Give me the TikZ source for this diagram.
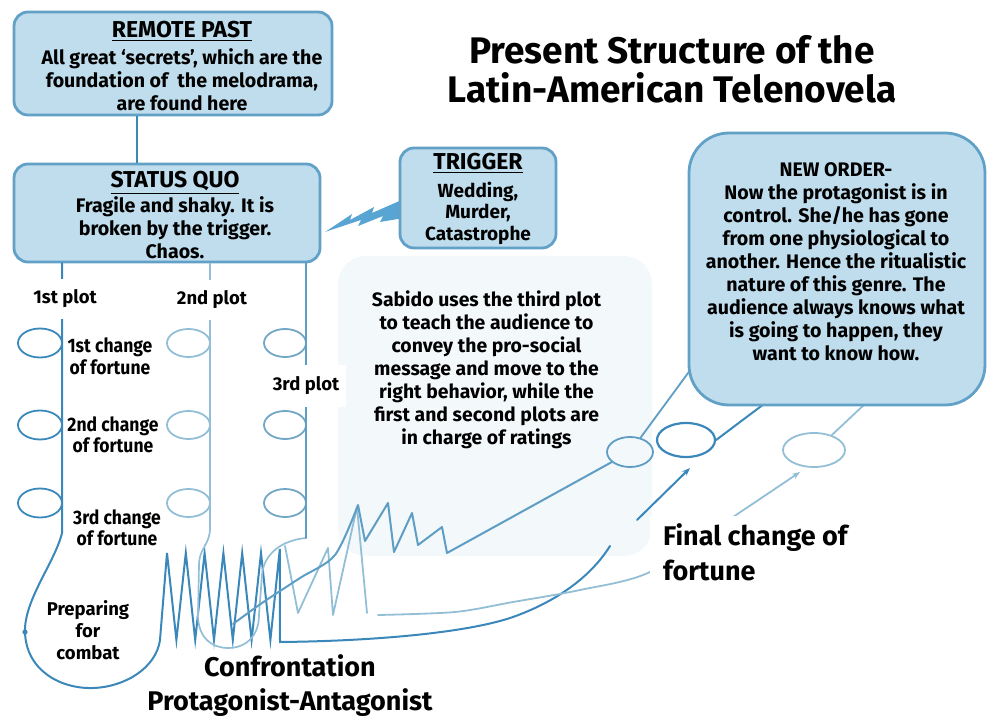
\documentclass[tikz,border=0pt]{standalone}
\usepackage{fontspec}
\setmainfont{Fira Sans}
\usetikzlibrary{arrows.meta,shapes.geometric}

\definecolor{boxfill}{HTML}{BFDDEC}
\definecolor{boxline}{HTML}{62A1C7}
\definecolor{plotA}{HTML}{3A87BA}
\definecolor{plotB}{HTML}{93BFD6}
\definecolor{plotC}{HTML}{5E9DC4}
\definecolor{ovalC}{HTML}{72A7C4}
\definecolor{boltblue}{HTML}{58A5D4}
\definecolor{haze}{HTML}{F3F8FB}

\newcommand\squeeze[1]{\scalebox{0.9}[1]{#1}}

\begin{document}
\begin{tikzpicture}[x=1pt,y=-1pt,
  panel/.style={draw=boxline, line width=2.8pt, fill=boxfill, rounded corners=14pt, inner sep=0pt},
  paneltext/.style={align=center, inner sep=0pt, font=\bfseries\fontsize{19.6}{23}\selectfont},
  headline/.style={inner sep=0pt, anchor=base, font=\bfseries\fontsize{23}{26}\selectfont},
  strand/.style={line width=2pt, line cap=round, line join=round},
  oval/.style={ellipse, draw, inner sep=0pt, line width=1.8pt},
  plotlabel/.style={fill=white, inner xsep=7pt, inner ysep=0pt, minimum height=40pt,
    font=\bfseries\fontsize{18.5}{20}\selectfont},
  note/.style={align=center, inner sep=0pt, font=\bfseries\fontsize{19.4}{23}\selectfont},
  fortune/.style={align=center, inner sep=0pt, anchor=north, font=\bfseries\fontsize{19.5}{21.5}\selectfont},
  tip/.style={-{Stealth[length=8pt,width=6pt]}},
]
\useasboundingbox (0,0) rectangle (988,719);

% soft backdrop behind the Sabido note
\fill[haze, rounded corners=28pt] (338,256) rectangle (652,556);

% title
\node[font=\bfseries\fontsize{37}{39}\selectfont, align=center, anchor=north, inner sep=0pt]
  (title) at (672,35) {Present Structure of the\\Latin-American Telenovela};

% anchor points
\coordinate (cA) at (137,0);
\coordinate (p1) at (62,533);
\coordinate (p2) at (210,528);
\coordinate (p3) at (306,538);
\coordinate (n1) at (705,350);
\coordinate (n2) at (780,392);
\coordinate (n3) at (882,388);
\coordinate (t2) at (690,468);
\coordinate (t3) at (800,472);

% change-of-fortune ovals on the three plots
\foreach \y [count=\i] in {343,425,503} {
  \node[oval, draw=plotA, minimum width=44pt, minimum height=29pt] (a\i) at (40,\y) {};
  \node[oval, draw=plotB, minimum width=43pt, minimum height=28pt] (b\i) at (188.5,\y) {};
  \node[oval, draw=ovalC, minimum width=42pt, minimum height=28pt] (c\i) at (285,\y) {};
}
% final ovals
\node[oval, draw=plotC, minimum width=46pt, minimum height=30pt] (e1) at (630,452) {};
\node[oval, draw=plotA, line width=2.2pt, minimum width=58pt, minimum height=34pt] (e2) at (686,440) {};
\node[oval, draw=plotB, minimum width=62pt, minimum height=34pt] (e3) at (814,450) {};

% boxes are placed first as empty shapes so lines can hang from them
\node[panel, minimum width=318pt, minimum height=103pt] (remote) at (173,63.5) {};
\node[panel, minimum width=306pt, minimum height=98pt] (status) at (167,213) {};

% remote past -> status quo
\draw[plotA, line width=2.2pt] (remote.south -| cA) -- (status.north -| cA);

% first plot: down, round the bend, into the confrontation spring
\draw[plotA, strand, line join=miter]
  (status.south -| p1) -- (p1)
  .. controls (55,562) and (24,600) .. (25,632)
  .. controls (26,670) and (60,689) .. (93,688)
  .. controls (125,687) and (156,668) .. (160,640)
  -- (167,553) -- (176.4,640) -- (185.8,553) -- (195.2,640) -- (204.6,553)
  -- (214,640) -- (223.4,553) -- (232.8,640) -- (242.2,553) -- (251.6,640)
  -- (261,553) -- (270.4,640) -- (279.8,549) -- (280,642)
  .. controls (380,641) and (470,632) .. (513,617)
  .. controls (555,602) and (590,578) .. (610,546);
\fill[plotA] (25,632) circle (2.6pt);
\draw[plotA, strand, tip] (637,520) -- (t2);

% second and third plots joined in a loop under the spring
\draw[plotB, strand, line width=1.7pt]
  (status.south -| p2) -- (p2)
  .. controls (210,545) and (199,548) .. (199,565) -- (198,615)
  .. controls (198,638) and (212,648) .. (228,648)
  .. controls (246,648) and (259,636) .. (259,615) -- (262,575)
  .. controls (264,552) and (284,540) .. (p3);
\draw[plotC, strand, line width=1.8pt] (status.south -| p3) -- (p3);

% second plot zigzag and its path to the final change
\draw[plotB, strand, line width=1.8pt]
  (285,546) -- (298,613) -- (328,548) -- (333,615) -- (357,507) -- (367,613);
\draw[plotB, strand, line width=1.8pt, tip]
  plot[smooth] coordinates {(378,615) (455,612) (513,602) (580,590) (650,572) (733,517) (800,472)};

% third plot zigzag up to the new order
\draw[plotC, strand]
  plot[smooth] coordinates {(233,624) (262,603) (300,578) (335,555) (358,505)}
  -- (365,541) -- (388,503) -- (394,552) -- (412,513) -- (418,545)
  -- (442,527) -- (447,553) -- (e1);
\draw[plotC, strand, line width=1.8pt] (e1) -- (n1);
\draw[plotA, strand, line width=2pt] (e2.east) -- (n2);
\draw[plotB, strand, line width=1.8pt] (e3.40) -- (n3);

% plot labels (white patches interrupt the lines)
\node[plotlabel] (plot1) at (65,299) {1st plot};
\node[plotlabel] (plot2) at (212,300) {2nd plot};
\node[plotlabel, minimum height=42pt] (plot3) at (306,386) {3rd plot};

\node[fortune] (chg1) at (110,338) {\squeeze{1st change}\\\squeeze{of fortune}};
\node[fortune] (chg2) at (113,416) {\squeeze{2nd change}\\\squeeze{of fortune}};
\node[fortune] (chg3) at (117,509) {\squeeze{3rd change}\\\squeeze{of fortune}};
\node[fortune, font=\bfseries\fontsize{18.5}{22}\selectfont] (prep) at (88,600)
  {Preparing\\for\\combat};

\node[align=center, anchor=north, inner sep=0pt, font=\bfseries\fontsize{27}{34}\selectfont]
  (confront) at (290,654) {Confrontation\\Protagonist-Antagonist};

\node[align=left, anchor=north west, fill=white, inner xsep=13pt, inner ysep=0pt,
  text depth=9pt, font=\bfseries\fontsize{27}{35}\selectfont]
  (final) at (650,516) {\rule{0pt}{29pt}Final change of\\fortune};

% lightning from the trigger
\fill[boltblue] (325,232) -- (352,214) -- (350,220) -- (374,207) -- (372,213)
  -- (404,199) -- (404,218) -- (380,222) -- (383,216) -- (358,226) -- (361,220) -- cycle;

% box texts
\node[headline] (remotehead) at (182,38) {\underline{REMOTE PAST}};
\node[paneltext, anchor=north] (remotebody) at (182,48.5)
  {All great ‘secrets’, which are the\\foundation of\ \ the melodrama,\\are found here};

\node[headline] (statushead) at (175,188) {\underline{STATUS QUO}};
\node[paneltext, anchor=north] (statusbody) at (175,196)
  {Fragile and shaky. It is\\broken by the trigger.\\Chaos.};

\node[panel, minimum width=156pt, minimum height=100pt] (trigger) at (478,198) {};
\node[headline] (triggerhead) at (478,170) {\underline{TRIGGER}};
\node[paneltext, anchor=north, font=\bfseries\fontsize{19}{21.5}\selectfont] (triggerbody) at (478,181.5)
  {Wedding,\\Murder,\\Catastrophe};

\node[panel, rounded corners=40pt, minimum width=296pt, minimum height=272pt] (neworder) at (837,269) {};
\node[note, anchor=north, font=\bfseries\fontsize{19.6}{23}\selectfont] (newordertext) at (836,162)
  {NEW ORDER-\\Now the protagonist is in\\control. She/he has gone\\from one physiological to\\another. Hence the ritualistic\\nature of this genre. The\\audience always knows what\\is going to happen, they\\want to know how.};

% Sabido note
\node[note, anchor=north] (sabido) at (486.5,291)
  {Sabido uses the third plot\\to teach the audience to\\convey the pro-social\\message and move to the\\right behavior, while the\\first and second plots are\\in charge of ratings};

\end{tikzpicture}
\end{document}
